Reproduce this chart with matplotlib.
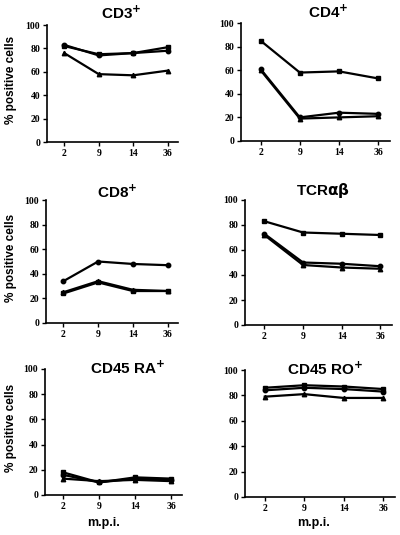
import matplotlib
matplotlib.use("Agg")
import matplotlib.pyplot as plt

# months post infection
mpi = ["2", "9", "14", "36"]
x = [0, 1, 2, 3]

cd3_sq = [82, 75, 76, 81]
cd3_ci = [83, 74, 76, 78]
cd3_tr = [76, 58, 57, 61]

cd4_sq = [85, 58, 59, 53]
cd4_ci = [61, 20, 24, 23]
cd4_tr = [60, 19, 20, 21]

cd8_ci = [34, 50, 48, 47]
cd8_sq = [24, 33, 26, 26]
cd8_tr = [25, 34, 27, 26]

tcr_sq = [83, 74, 73, 72]
tcr_ci = [73, 50, 49, 47]
tcr_tr = [72, 48, 46, 45]

ra_sq = [18, 10, 14, 13]
ra_ci = [16, 10, 13, 12]
ra_tr = [13, 11, 12, 11]

ro_sq = [86, 88, 87, 85]
ro_ci = [84, 86, 85, 83]
ro_tr = [79, 81, 78, 78]

W, H = 400, 535
fig = plt.figure(figsize=(4, 5.35), dpi=100)

def px(l, t, r, b):
    return [l / W, 1 - b / H, (r - l) / W, (b - t) / H]

panels = [
    ("CD3$^{\\mathbf{+}}$", px(47, 25, 178, 142), [cd3_sq, cd3_ci, cd3_tr], (121, 13)),
    ("CD4$^{\\mathbf{+}}$", px(241, 23, 390, 141), [cd4_sq, cd4_ci, cd4_tr], (328, 12)),
    ("CD8$^{\\mathbf{+}}$", px(46, 200, 178, 323), [cd8_sq, cd8_ci, cd8_tr], (117, 192)),
    ("TCR$\\mathbf{\\alpha\\beta}$", px(245, 200, 392, 325), [tcr_sq, tcr_ci, tcr_tr], (323, 190)),
    ("CD45 RA$^{\\mathbf{+}}$", px(45, 369, 182, 495), [ra_sq, ra_ci, ra_tr], (128, 368)),
    ("CD45 RO$^{\\mathbf{+}}$", px(245, 370, 395, 497), [ro_sq, ro_ci, ro_tr], (325, 369)),
]

markers = ["s", "o", "^"]

for i, (title, pos, series, tpos) in enumerate(panels):
    ax = fig.add_axes(pos)
    for s, m in zip(series, markers):
        ax.plot(x, s, color="black", lw=1.6, marker=m, ms=3.2)
    ax.set_xlim(-0.5, 3.3)
    ax.set_ylim(0, 100)
    ax.set_yticks([0, 20, 40, 60, 80, 100])
    ax.set_xticks(x)
    ax.set_xticklabels(mpi)
    for sp in ["top", "right"]:
        ax.spines[sp].set_visible(False)
    for sp in ["left", "bottom"]:
        ax.spines[sp].set_linewidth(1.2)
    ax.tick_params(labelsize=7, length=3, width=1, pad=2)
    for lab in ax.get_xticklabels() + ax.get_yticklabels():
        lab.set_family("Liberation Serif")
        lab.set_fontweight("bold")
    fig.text(tpos[0] / W, 1 - tpos[1] / H, title, ha="center", va="center",
             fontsize=11, fontweight="bold", family="Liberation Sans")

for yc in [80, 258, 428]:
    fig.text(11 / W, 1 - yc / H, "% positive cells", rotation=90, ha="center",
             va="center", fontsize=8.5, fontweight="bold", family="Liberation Sans")

for xc in [103, 314]:
    fig.text(xc / W, 1 - 523 / H, "m.p.i.", ha="center", va="center",
             fontsize=9, fontweight="bold", family="Liberation Sans")

fig.savefig("out.png", dpi=100)
